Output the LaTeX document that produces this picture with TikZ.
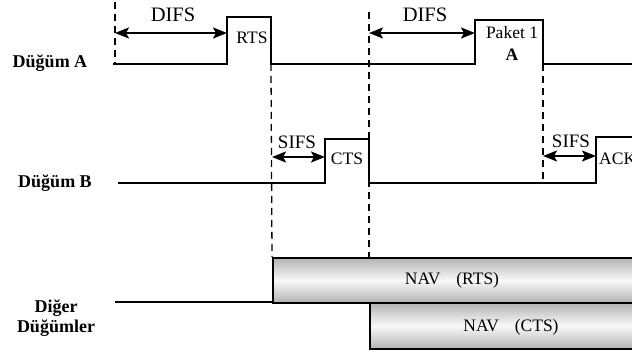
\documentclass[tikz,border=0pt]{standalone}
\usepackage{fontspec}
\setmainfont{Liberation Serif}
\usetikzlibrary{arrows.meta, positioning, calc}

\begin{document}
\begin{tikzpicture}[
  x=1pt, y=-1pt,
  font=\fontsize{17.5}{19}\selectfont,
  >={Stealth[length=14pt, width=11pt, inset=3pt]},
  signal/.style={line width=1.8pt},
  guide/.style={line width=1.3pt, dash pattern=on 7pt off 5pt},
  span/.style={<->, line width=2.2pt},
  navbox/.style={draw, line width=1.6pt, top color=gray!60, bottom color=gray!60, middle color=gray!5},
  rowname/.style={font=\fontsize{18}{20}\selectfont\bfseries, align=center},
  lbl/.style={inner sep=0pt}
]
\useasboundingbox (0,0) rectangle (632,352);
\clip (0,0) rectangle (632,352);

% Row names
\node[rowname] (nameA) at (50,63) {Düğüm A};
\node[rowname] (nameB) at (55,183) {Düğüm B};
\node[rowname, align=center] (nameO) at (56,318) {Diğer\\Düğümler};

% Time marks
\coordinate (tDa) at (115,2);
\coordinate (tDb) at (369,12);

% Düğüm A signal
\draw[signal] (113,64) -- (227,64) -- (227,17) -- (271,17) -- (271,64)
  -- (475,64) -- (475,20) -- (543,20) -- (543,64) -- (640,64);

% Düğüm B signal
\draw[signal] (118,183) -- (325,183) -- (325,139) -- (369,139) -- (369,183)
  -- (596,183) -- (596,137) -- (640,137);

% Diğer Düğümler signal and NAV boxes
\draw[signal] (115,302) -- (272,302);
\node[navbox, minimum width=380pt, minimum height=45pt, anchor=north west, inner sep=0pt] (navR) at (272,257) {};
\node[navbox, minimum width=300pt, minimum height=46pt, anchor=north west, inner sep=0pt] (navC) at (369,302) {};

% Dashed guides
\draw[guide] (tDa) -- (115,64);
\draw[guide] (271,64) -- (navR.north west);
\draw[guide] (tDb) -- (369,257);
\draw[guide] (543,64) -- (543,183);

% Intervals
\draw[span] (115,33) -- (227,33);
\draw[span] (369,33) -- (475,33);
\draw[span] (272,157) -- (325,157);
\draw[span] (543,156) -- (596,156);

% Labels
\node[lbl] (difsA) at (173,15) {\fontsize{20.5}{22}\selectfont DIFS};
\node[lbl] (difsB) at (425,15) {\fontsize{20.5}{22}\selectfont DIFS};
\node[lbl] (rts) at (252,38) {RTS};
\node[lbl] (pkt) at (512,33) {Paket 1};
\node[lbl, font=\fontsize{17.5}{19}\selectfont\bfseries] (pktA) at (512,55) {A};
\node[lbl] (sifsA) at (297,142) {\fontsize{19}{20}\selectfont SIFS};
\node[lbl] (cts) at (347,159) {CTS};
\node[lbl] (sifsB) at (571,141) {\fontsize{19}{20}\selectfont SIFS};
\node[lbl, anchor=west] (ack) at (599,159) {ACK};
\node[lbl] (navRtxt) at (452,280) {NAV\hspace{0.9em}(RTS)};
\node[lbl] (navCtxt) at (511,327) {NAV\hspace{0.9em}(CTS)};

\end{tikzpicture}
\end{document}
